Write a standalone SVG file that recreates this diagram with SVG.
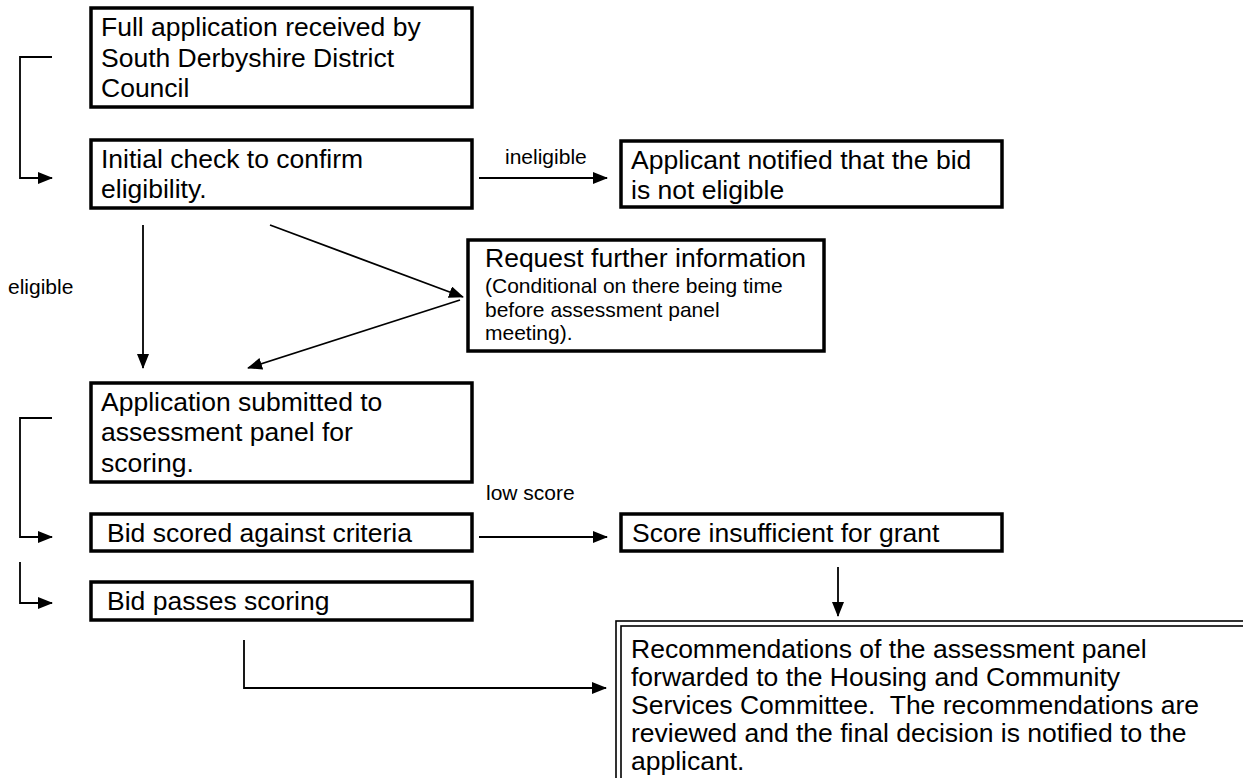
<svg xmlns="http://www.w3.org/2000/svg" width="1243" height="778" viewBox="0 0 1243 778">
<style>
.box{fill:#fff;stroke:#000;stroke-width:3.5}
.dbl{fill:none;stroke:#000;stroke-width:1.6}
.t{font-family:"Liberation Sans",Arial,sans-serif;font-size:26.5px;fill:#000}
.s{font-family:"Liberation Sans",Arial,sans-serif;font-size:21px;fill:#000}
.c{fill:none;stroke:#000;stroke-width:1.8}
</style>
<defs>
<marker id="ah" markerWidth="15" markerHeight="12" refX="14" refY="6" orient="auto" markerUnits="userSpaceOnUse">
<path d="M0,0 L15,6 L0,12 Z" fill="#000"/>
</marker>
</defs>
<rect width="1243" height="778" fill="#fff"/>
<g id="connectors">
<path class="c" d="M52,57 H20 V178 H52" marker-end="url(#ah)"/>
<path class="c" d="M479,178 H607" marker-end="url(#ah)"/>
<text class="s" x="505" y="164">ineligible</text>
<text class="s" x="8" y="294">eligible</text>
<path class="c" d="M143,225 V368" marker-end="url(#ah)"/>
<path class="c" d="M270,225 L463,297" marker-end="url(#ah)"/>
<path class="c" d="M460,300 L248,368" marker-end="url(#ah)"/>
<path class="c" d="M52,418 H20 V537 H52" marker-end="url(#ah)"/>
<text class="s" x="486" y="500">low score</text>
<path class="c" d="M479,537 H607" marker-end="url(#ah)"/>
<path class="c" d="M20,562 V603 H52" marker-end="url(#ah)"/>
<path class="c" d="M838,567 V616" marker-end="url(#ah)"/>
<path class="c" d="M244,640 V688 H606" marker-end="url(#ah)"/>
</g>
<g id="n1"><rect class="box" x="91" y="8" width="381" height="99"/>
<text class="t" x="101" y="36">Full application received by</text>
<text class="t" x="101" y="67">South Derbyshire District</text>
<text class="t" x="101" y="97">Council</text></g>
<g id="n2"><rect class="box" x="91" y="140" width="381" height="68"/>
<text class="t" x="101" y="168">Initial check to confirm</text>
<text class="t" x="101" y="198">eligibility.</text></g>
<g id="n3"><rect class="box" x="621" y="141" width="381" height="66"/>
<text class="t" x="631" y="169">Applicant notified that the bid</text>
<text class="t" x="631" y="199">is not eligible</text></g>
<g id="n4"><rect class="box" x="468" y="240" width="356" height="111"/>
<text class="t" x="485" y="267">Request further information</text>
<text class="s" x="485" y="293">(Conditional on there being time</text>
<text class="s" x="485" y="317">before assessment panel</text>
<text class="s" x="485" y="340">meeting).</text></g>
<g id="n5"><rect class="box" x="91" y="383" width="381" height="99"/>
<text class="t" x="101" y="411">Application submitted to</text>
<text class="t" x="101" y="441">assessment panel for</text>
<text class="t" x="101" y="472">scoring.</text></g>
<g id="n6"><rect class="box" x="91" y="514" width="381" height="37"/>
<text class="t" x="107" y="542">Bid scored against criteria</text></g>
<g id="n7"><rect class="box" x="621" y="514" width="381" height="37"/>
<text class="t" x="632" y="542">Score insufficient for grant</text></g>
<g id="n8"><rect class="box" x="91" y="582" width="381" height="38"/>
<text class="t" x="107" y="610">Bid passes scoring</text></g>
<g id="n9"><rect class="dbl" x="616" y="621" width="640" height="170"/>
<rect class="dbl" x="621" y="626" width="630" height="160"/>
<text class="t" x="631" y="658">Recommendations of the assessment panel</text>
<text class="t" x="631" y="686">forwarded to the Housing and Community</text>
<text class="t" x="631" y="714" xml:space="preserve">Services Committee.  The recommendations are</text>
<text class="t" x="631" y="742">reviewed and the final decision is notified to the</text>
<text class="t" x="631" y="770">applicant.</text></g>
</svg>
